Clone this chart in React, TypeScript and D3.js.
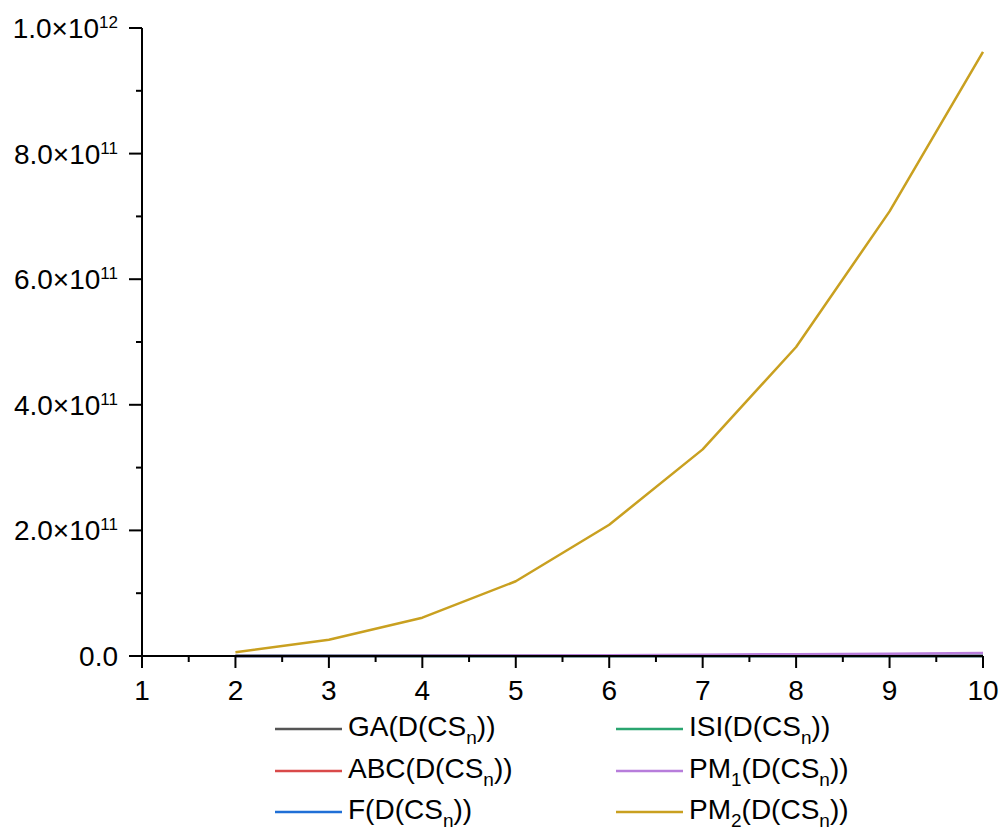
import React from "react";
import * as d3 from "d3";

const nValues = [2, 3, 4, 5, 6, 7, 8, 9, 10];
const gaValues = [8, 30, 80, 170, 310, 520, 800, 1170, 1640];
const abcValues = [6, 22, 60, 130, 240, 400, 620, 900, 1260];
const fValues = [40, 300, 1200, 3600, 9000, 19500, 38000, 68000, 115000];
const isiValues = [6, 25, 70, 160, 310, 540, 860, 1300, 1870];
const pm1Values = [1e6, 4e7, 2.5e8, 7e8, 1.3e9, 2.1e9, 2.9e9, 3.7e9, 4.6e9];
const pm2Values = [6e9, 2.6e10, 6.1e10, 1.19e11, 2.09e11, 3.29e11, 4.92e11, 7.08e11, 9.62e11];

const seriesNames = ["GA(D(CS_n))", "ABC(D(CS_n))", "F(D(CS_n))", "ISI(D(CS_n))", "PM_1(D(CS_n))", "PM_2(D(CS_n))"];
const seriesColors = ["#555555", "#d94a4a", "#1f6fd6", "#2aa56f", "#b77ddb", "#c9a020"];
const seriesData = [gaValues, abcValues, fValues, isiValues, pm1Values, pm2Values];

const xTicks = [1, 2, 3, 4, 5, 6, 7, 8, 9, 10];
const xMinorTicks = [1.5, 2.5, 3.5, 4.5, 5.5, 6.5, 7.5, 8.5, 9.5];
const yTicks = [0, 2e11, 4e11, 6e11, 8e11, 1e12];
const yMinorTicks = [1e11, 3e11, 5e11, 7e11, 9e11];

const W = 1002;
const H = 832;
const FONT = "'Liberation Sans', Arial, sans-serif";

function renderLabel(label: string) {
  const parts: { t: string; sub: boolean }[] = [];
  let buf = "";
  for (let i = 0; i < label.length; i++) {
    if (label[i] === "_" && i + 1 < label.length) {
      if (buf) parts.push({ t: buf, sub: false });
      buf = "";
      parts.push({ t: label[i + 1], sub: true });
      i++;
    } else buf += label[i];
  }
  if (buf) parts.push({ t: buf, sub: false });
  const out: React.ReactNode[] = [];
  let prevSub = false;
  parts.forEach((p, i) => {
    if (p.sub) {
      out.push(
        <tspan key={i} dy={8} fontSize={19}>
          {p.t}
        </tspan>
      );
      prevSub = true;
    } else {
      out.push(
        <tspan key={i} dy={prevSub ? -8 : 0}>
          {p.t}
        </tspan>
      );
      prevSub = false;
    }
  });
  return out;
}

function yLabel(v: number) {
  if (v === 0) return [<tspan key="a">0.0</tspan>];
  const e = Math.floor(Math.log10(v) + 1e-9);
  const m = v / Math.pow(10, e);
  return [
    <tspan key="a">{m.toFixed(1) + "×10"}</tspan>,
    <tspan key="b" dy={-10} fontSize={17}>
      {String(e)}
    </tspan>,
  ];
}

export default function App() {
  const x = d3.scaleLinear().domain([1, 10]).range([142, 983]);
  const y = d3.scaleLinear().domain([0, 1e12]).range([656, 28]);
  const line = d3
    .line<[number, number]>()
    .x((d) => x(d[0]))
    .y((d) => y(d[1]));

  const legendRowsY = [729, 771, 812];
  const legendColX = [275, 616];

  return (
    <div style={{ position: "absolute", left: 0, top: 0 }}>
      <svg width={W} height={H} style={{ display: "block", background: "#fff" }} fontFamily={FONT}>
        {seriesData.map((vals, si) => (
          <path
            key={si}
            d={line(vals.map((v, i) => [nValues[i], v] as [number, number])) || ""}
            fill="none"
            stroke={seriesColors[si]}
            strokeWidth={2.5}
            strokeLinejoin="round"
          />
        ))}
        <line x1={x(1)} x2={x(10)} y1={y(0)} y2={y(0)} stroke="#000" strokeWidth={2} />
        <line x1={x(1)} x2={x(1)} y1={y(0) + 1} y2={y(1e12)} stroke="#000" strokeWidth={2} />
        {xTicks.map((t) => (
          <g key={"xt" + t}>
            <line x1={x(t)} x2={x(t)} y1={y(0)} y2={y(0) + 12} stroke="#000" strokeWidth={2} />
            <text x={x(t)} y={y(0) + 44} textAnchor="middle" fontSize={28} fill="#000">
              {t}
            </text>
          </g>
        ))}
        {xMinorTicks.map((t) => (
          <line key={"xm" + t} x1={x(t)} x2={x(t)} y1={y(0)} y2={y(0) + 6} stroke="#000" strokeWidth={2} />
        ))}
        {yTicks.map((t) => (
          <g key={"yt" + t}>
            <line x1={x(1) - 13} x2={x(1)} y1={y(t)} y2={y(t)} stroke="#000" strokeWidth={2} />
            <text x={x(1) - 24} y={y(t) + 10} textAnchor="end" fontSize={28} fill="#000">
              {yLabel(t)}
            </text>
          </g>
        ))}
        {yMinorTicks.map((t) => (
          <line key={"ym" + t} x1={x(1) - 6} x2={x(1)} y1={y(t)} y2={y(t)} stroke="#000" strokeWidth={2} />
        ))}
        {seriesNames.map((name, i) => {
          const col = Math.floor(i / 3);
          const row = i % 3;
          const lx = legendColX[col];
          const ly = legendRowsY[row];
          return (
            <g key={"lg" + i}>
              <line x1={lx} x2={lx + 67} y1={ly} y2={ly} stroke={seriesColors[i]} strokeWidth={2.5} />
              <text x={lx + 73} y={ly + 7} fontSize={28} fill="#000">
                {renderLabel(name)}
              </text>
            </g>
          );
        })}
      </svg>
    </div>
  );
}
